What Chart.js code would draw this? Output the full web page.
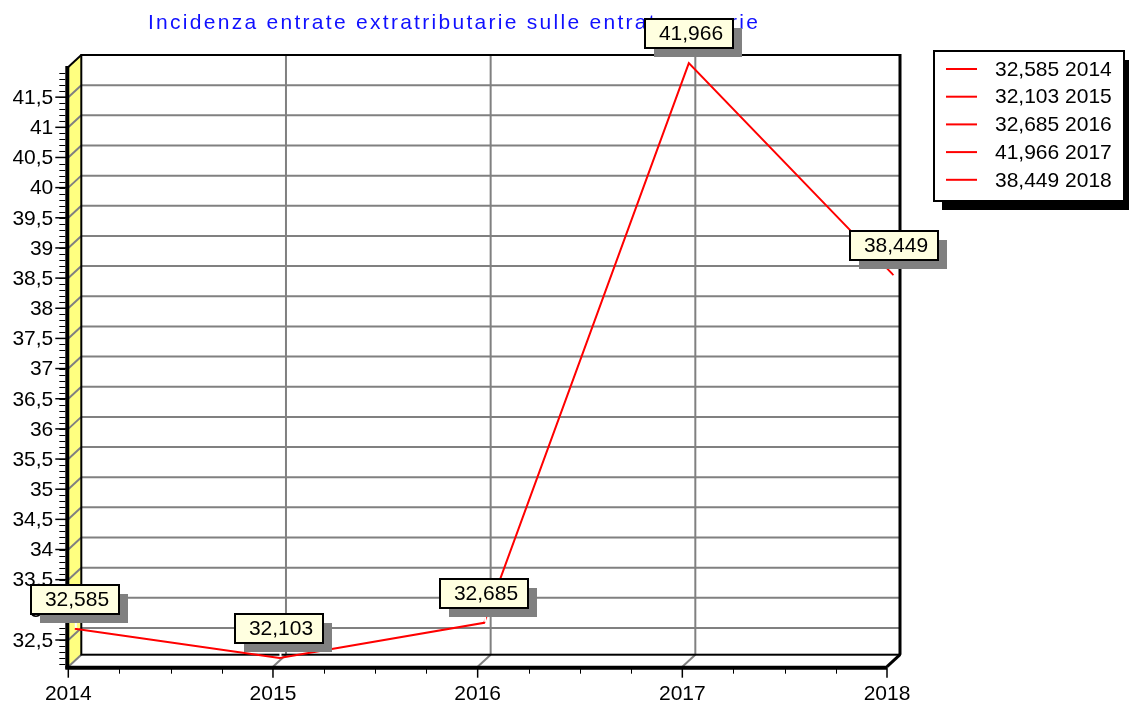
<!DOCTYPE html>
<html>
<head>
<meta charset="utf-8">
<script src="https://cdn.jsdelivr.net/npm/chart.js@4"></script>
<style>
    html, body { margin: 0; padding: 0; background: #fff; }
</style>
</head>
<body>
<canvas id="chart" width="1129" height="705"></canvas>
<script>
// Data
const years = ['2014', '2015', '2016', '2017', '2018'];
const values = [32.585, 32.103, 32.685, 41.966, 38.449];
const valueLabels = ['32,585', '32,103', '32,685', '41,966', '38,449'];
const yTickValues = [32.5, 33, 33.5, 34, 34.5, 35, 35.5, 36, 36.5, 37, 37.5, 38, 38.5, 39, 39.5, 40, 40.5, 41, 41.5];
const yTickLabels = ['32,5', '33', '33,5', '34', '34,5', '35', '35,5', '36', '36,5', '37', '37,5', '38', '38,5', '39', '39,5', '40', '40,5', '41', '41,5'];
const chartTitle = 'Incidenza entrate extratributarie sulle entrate proprie';

// 3D depth: offset from front plane to back plane
const DX = 13;
const DY = 12;
const FONT = '21px "Liberation Sans", Arial, sans-serif';

/**
 * Title with wide letter spacing
 */
function drawTitle(ctx) {
    ctx.save();
    ctx.font = '21px "Liberation Sans", Arial, sans-serif';
    ctx.fillStyle = '#1010ff';
    ctx.textBaseline = 'alphabetic';
    ctx.textAlign = 'left';
    const chars = chartTitle.split('');
    const widths = chars.map(c => ctx.measureText(c).width);
    const plain = widths.reduce((s, w) => s + w, 0);
    const span = 610;
    const gap = (span - plain) / (chars.length - 1);
    let x = 148;
    chars.forEach((c, i) => {
        ctx.fillText(c, x, 29);
        x += widths[i] + gap;
    });
    ctx.restore();
}

function line(ctx, x1, y1, x2, y2) {
    ctx.beginPath();
    ctx.moveTo(x1, y1);
    ctx.lineTo(x2, y2);
    ctx.stroke();
}

/**
 * Pseudo 3D frame: back wall, left wall, floor, ticks
 */
function drawFrame(chart) {
    const ctx = chart.ctx;
    const a = chart.chartArea;
    const xs = chart.scales.x;
    const ys = chart.scales.y;
    const hx = DX / 2, hy = DY / 2;
    const bL = a.left + hx, bR = a.right + hx, bT = a.top - hy, bB = a.bottom - hy;
    const fL = a.left - hx, fR = a.right - hx, fT = a.top + hy, fB = a.bottom + hy;

    ctx.save();

    // yellow left wall
    ctx.fillStyle = '#ffff80';
    ctx.beginPath();
    ctx.moveTo(fL, fT);
    ctx.lineTo(bL, bT);
    ctx.lineTo(bL, bB);
    ctx.lineTo(fL, fB);
    ctx.closePath();
    ctx.fill();

    // horizontal grid on back wall + diagonals on left wall
    ctx.strokeStyle = '#808080';
    ctx.lineWidth = 2;
    yTickValues.forEach(v => {
        const y = ys.getPixelForValue(v);
        line(ctx, bL, y - hy, bR, y - hy);
        line(ctx, fL, y + hy, bL, y - hy);
    });

    // vertical grid on back wall + diagonals on floor
    years.forEach((yr, i) => {
        const x = xs.getPixelForValue(i);
        if (i > 0 && i < years.length - 1) {
            line(ctx, x + hx, bT, x + hx, bB);
        }
        if (i < years.length - 1) {
            line(ctx, x - hx, fB, x + hx, bB);
        }
    });

    // back wall border
    ctx.strokeStyle = '#000';
    ctx.lineWidth = 2;
    ctx.strokeRect(bL, bT, bR - bL, bB - bT);
    ctx.lineWidth = 3;
    line(ctx, bR, bT - 1, bR, bB);

    // left wall edges
    ctx.lineWidth = 2;
    line(ctx, fL, fT, bL, bT);
    ctx.lineWidth = 4;
    line(ctx, fL - 1, fT - 1, fL - 1, fB + 2);

    // floor front edge and right diagonal
    line(ctx, fL - 3, fB + 1, fR, fB + 1);
    ctx.lineWidth = 3;
    line(ctx, fR, fB, bR, bB);

    // y ticks
    ctx.lineWidth = 1;
    for (let v = Math.ceil(ys.min * 10) / 10; v <= ys.max; v += 0.1) {
        const y = Math.round(ys.getPixelForValue(v) + hy) + 0.5;
        line(ctx, fL - 9, y, fL - 3, y);
    }
    ctx.lineWidth = 1.5;
    ctx.font = FONT;
    ctx.fillStyle = '#000';
    ctx.textAlign = 'right';
    ctx.textBaseline = 'middle';
    yTickValues.forEach((v, i) => {
        const y = ys.getPixelForValue(v) + hy;
        line(ctx, fL - 13, y, fL, y);
        ctx.fillText(yTickLabels[i], fL - 15, y + 1);
    });

    // x ticks
    ctx.textAlign = 'center';
    ctx.textBaseline = 'alphabetic';
    years.forEach((yr, i) => {
        const x = xs.getPixelForValue(i) - hx;
        ctx.lineWidth = 1.5;
        line(ctx, x, fB, x, fB + 11);
        ctx.fillText(yr, x, fB + 33);
        if (i < years.length - 1) {
            const xn = xs.getPixelForValue(i + 1) - hx;
            ctx.lineWidth = 1;
            for (let k = 1; k < 4; k++) {
                const xm = Math.round(x + (xn - x) * k / 4) + 0.5;
                line(ctx, xm, fB + 2, xm, fB + 7);
            }
        }
    });

    ctx.restore();
}

/**
 * Value boxes above each point
 */
function drawValueBoxes(chart) {
    const ctx = chart.ctx;
    const meta = chart.getDatasetMeta(0);
    ctx.save();
    ctx.font = FONT;
    ctx.textAlign = 'center';
    ctx.textBaseline = 'middle';
    meta.data.forEach((pt, i) => {
        const text = valueLabels[i];
        const w = Math.round(ctx.measureText(text).width + 24);
        const h = 29;
        const bx = Math.round(pt.x - w / 2);
        const by = Math.round(pt.y - 15 - h);
        // leader
        ctx.strokeStyle = '#fff';
        ctx.lineWidth = 2;
        line(ctx, pt.x + 1, by + h, pt.x + 1, pt.y - 1);
        // shadow
        ctx.fillStyle = '#808080';
        ctx.fillRect(bx + 9, by + 9, w, h);
        // box
        ctx.fillStyle = '#ffffe0';
        ctx.fillRect(bx, by, w, h);
        ctx.strokeStyle = '#000';
        ctx.lineWidth = 2;
        ctx.strokeRect(bx, by, w, h);
        ctx.fillStyle = '#000';
        ctx.fillText(text, bx + w / 2 + 2, by + h / 2 + 1);
    });
    ctx.restore();
}

/**
 * Legend box on the right
 */
function drawLegend(chart) {
    const ctx = chart.ctx;
    const lx = 934, ly = 51, lw = 190, lh = 150;
    ctx.save();
    ctx.fillStyle = '#000';
    ctx.fillRect(lx + 8, ly + 9, lw, lh);
    ctx.fillStyle = '#fff';
    ctx.fillRect(lx, ly, lw, lh);
    ctx.strokeStyle = '#000';
    ctx.lineWidth = 2;
    ctx.strokeRect(lx, ly, lw, lh);
    ctx.font = FONT;
    ctx.textAlign = 'left';
    ctx.textBaseline = 'middle';
    years.forEach((yr, i) => {
        const y = 69 + i * 27.7;
        ctx.strokeStyle = '#ff0000';
        ctx.lineWidth = 2;
        line(ctx, 946, y, 977, y);
        ctx.fillStyle = '#000';
        ctx.fillText(valueLabels[i] + ' ' + yr, 995, y + 1);
    });
    ctx.restore();
}

const frame3d = {
    id: 'frame3d',
    beforeDatasetsDraw(chart) {
        drawTitle(chart.ctx);
        drawFrame(chart);
    },
    afterDatasetsDraw(chart) {
        drawValueBoxes(chart);
        drawLegend(chart);
    }
};

const ctx = document.getElementById('chart');
new Chart(ctx, {
    type: 'line',
    data: {
        labels: years,
        datasets: [{
            data: values,
            borderColor: '#ff0000',
            borderWidth: 2,
            pointRadius: 0,
            tension: 0,
            fill: false
        }]
    },
    options: {
        responsive: false,
        animation: false,
        layout: {
            padding: { left: 74.8, right: 235.5, top: 61, bottom: 44.3 }
        },
        scales: {
            x: { display: false, offset: false },
            y: { display: false, min: 32.057, max: 42.0 }
        },
        plugins: {
            legend: { display: false },
            title: { display: false },
            tooltip: { enabled: false }
        }
    },
    plugins: [frame3d]
});
</script>
</body>
</html>
